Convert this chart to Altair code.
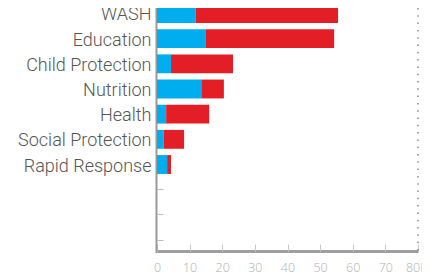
import altair as alt
import pandas as pd

categories = ["WASH", "Education", "Child Protection", "Nutrition", "Health",
              "Social Protection", "Rapid Response"]
funded = [11.9, 15.0, 4.3, 13.8, 2.8, 2.1, 3.1]
gap = [43.6, 39.3, 19.0, 6.7, 13.2, 6.2, 1.2]
empty_rows = [" ", "  ", "   "]
x_ticks = [0, 10, 20, 30, 40, 50, 60, 70, 80]
series = ["Funded", "Gap"]
colors = ["#00AEEF", "#E31E26"]

rows = []
for c, f, g in zip(categories, funded, gap):
    rows.append({"category": c, "series": series[0], "value": f, "ord": 0})
    rows.append({"category": c, "series": series[1], "value": g, "ord": 1})
df = pd.DataFrame(rows)
ref = pd.DataFrame({"x": [x_ticks[-1]]})

domain_rows = categories + empty_rows
yscale = alt.Scale(domain=domain_rows, range=[-7.1, 244.6], paddingInner=0.25, paddingOuter=0.125)
xscale = alt.Scale(domain=[0, 80], nice=False)

bars = alt.Chart(df).mark_bar().encode(
    x=alt.X("value:Q", stack="zero", scale=xscale, title=None,
            axis=alt.Axis(values=x_ticks, ticks=False, tickSize=0, grid=False,
                          domainColor="#9e9e9e", domainWidth=3,
                          labelColor="#b0b0b0", labelFont="Open Sans", labelFontWeight=300,
                          labelFontSize=12.5, labelPadding=10, labelFlush=False,
                          labelExpr="datum.value == 80 ? '80M' : datum.label")),
    y=alt.Y("category:N", scale=yscale, title=None,
            axis=alt.Axis(ticks=False, tickSize=0, grid=False, offset=1,
                          domainColor="#999999", domainWidth=2,
                          labelColor="#555555", labelFont="Roboto", labelFontWeight=300,
                          labelFontSize=18, labelPadding=5, labelOffset=2)),
    color=alt.Color("series:N", scale=alt.Scale(domain=series, range=colors), legend=None),
    order=alt.Order("ord:Q"),
)

ghost = alt.Chart(df).mark_bar(opacity=0).encode(
    x=alt.X("value:Q", stack="zero", scale=xscale, title=None,
            axis=alt.Axis(orient="top", offset=-243, values=x_ticks, labels=False,
                          domain=False, grid=False, tickSize=7, tickColor="#c8c8c8")),
    y=alt.Y("category:N", scale=yscale, title=None,
            axis=alt.Axis(orient="right", offset=-261, labels=False, domain=False,
                          grid=False, tickSize=6, tickColor="#bbbbbb")),
    order=alt.Order("ord:Q"),
)

dotted = alt.Chart(ref).mark_rule(strokeDash=[1.5, 5.8], strokeWidth=1.5, color="#888888").encode(
    x=alt.X("x:Q", scale=xscale, axis=None)
)

chart = alt.layer(bars, ghost, dotted).resolve_scale(x="independent", y="independent").properties(
    width=261, height=243,
    autosize=alt.AutoSizeParams(type="none"),
    padding={"left": 149, "top": 0, "right": 4, "bottom": 27},
).configure_view(stroke=None)

chart.save("out.html", embed_options={"renderer": "svg", "actions": False})
